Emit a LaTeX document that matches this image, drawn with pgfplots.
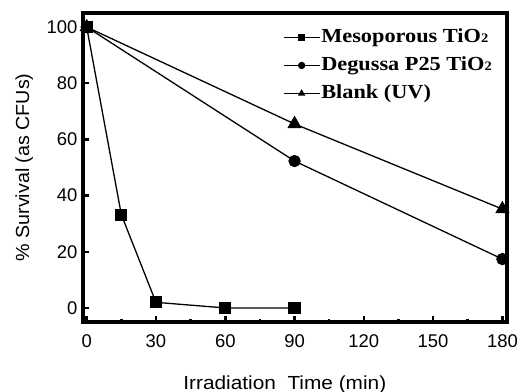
\documentclass[border=0pt]{standalone}
\usepackage{fontspec}
\setmainfont{Liberation Sans}
\newfontfamily\legfont{Liberation Serif}
\usepackage{pgfplots}
\pgfplotsset{compat=1.18}
\newcommand{\sub}[1]{{\fontsize{13}{13}\selectfont #1}}
\newcommand{\leg}[1]{\scalebox{1.12}[1]{#1}}
\begin{document}
\begin{tikzpicture}
\path[use as bounding box] (-83bp,-70bp) rectangle (435bp,322bp);
\begin{axis}[
  scale only axis, width=424bp, height=309bp,
  xmin=-1.6, xmax=182, ymin=-5, ymax=105,
  axis on top,
  axis line style={line width=3.5bp},
  xtick={0,30,...,180}, ytick={0,20,...,100},
  minor x tick num=1,
  tick align=inside, tick pos=left,
  major tick length=6bp, minor tick length=3bp,
  every tick/.style={line width=2.5bp, black},
  every minor tick/.style={line width=2.5bp, black},
  tick label style={font=\fontsize{18.5}{20}\selectfont},
  /pgf/number format/assume math mode=true,
  xticklabel style={yshift=-9bp},
  yticklabel style={xshift=-2bp},
  xlabel={Irradiation\ \ Time (min)},
  ylabel={\% Survival (as CFUs)},
  label style={font=\fontsize{19}{21}\selectfont},
  xlabel style={at={(axis description cs:0.476,-0.217)}, anchor=base, xscale=1.1},
  ylabel style={at={(axis description cs:-0.127,0.5)}, anchor=base, xscale=1.04},
  legend style={at={(axis description cs:0.967,0.957)}, anchor=north east,
    draw=none, fill=none, font=\legfont\bfseries\fontsize{20}{22}\selectfont,
    row sep=6bp, inner sep=0pt,
    nodes={text height=15bp, text depth=5bp, inner sep=1bp}},
  legend cell align=left,
  legend image code/.code={\draw[mark repeat=2, mark phase=2, #1, mark size=3bp]
    plot coordinates {(0bp,0bp)(18bp,0bp)(36bp,0bp)};},
  every axis plot/.append style={line width=1.3bp, black},
]
\addplot[mark=square*, mark size=5.5bp, mark options={solid}] coordinates {
  (0,100) (15,33.2) (30,2) (60,0) (90,0)};
\addlegendentry{\leg{Mesoporous TiO\sub{2}}}
\addplot[mark=*, mark size=5.5bp] coordinates {
  (0,100) (90,52.3) (180,17.4)};
\addlegendentry{\leg{Degussa P25 TiO\sub{2}}}
\addplot[mark=triangle*, mark size=7bp] coordinates {
  (0,100) (90,65.5) (180,35.2)};
\addlegendentry{\leg{Blank (UV)}}
\end{axis}
\end{tikzpicture}
\end{document}
